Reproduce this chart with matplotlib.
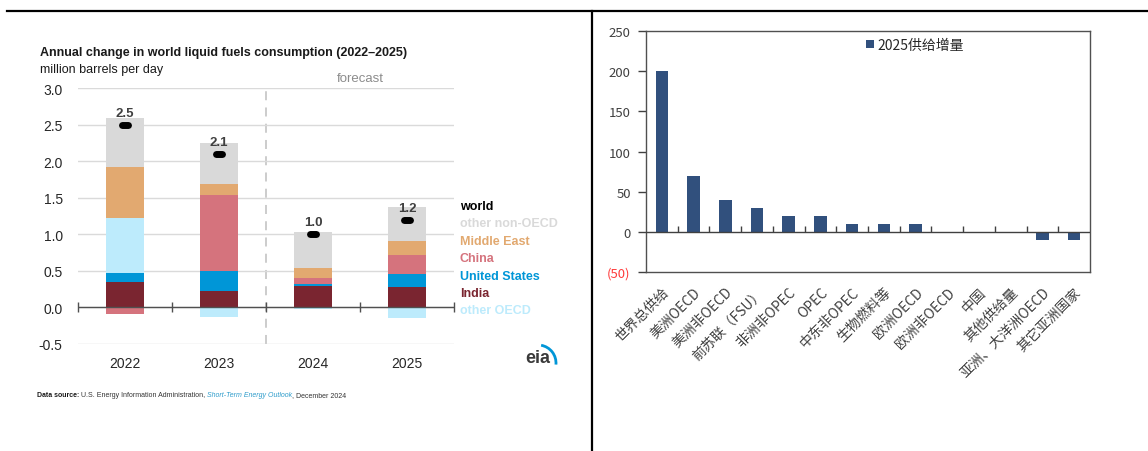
import numpy as np
import matplotlib
matplotlib.use('Agg')
import matplotlib.pyplot as plt
from matplotlib.lines import Line2D
from matplotlib.patches import Arc

# ---- left chart: EIA annual change in world liquid fuels consumption ----
years = ['2022', '2023', '2024', '2025']
world = [2.5, 2.1, 1.0, 1.2]
world_labels = ['2.5', '2.1', '1.0', '1.2']
# stack order from the zero line outwards
series_names = ['India', 'United States', 'China', 'other OECD',
                'Middle East', 'other non-OECD']
series_values = {
    'India':          [0.34, 0.22, 0.29, 0.27],
    'United States':  [0.13, 0.27, 0.03, 0.19],
    'China':          [-0.10, 1.05, 0.08, 0.26],
    'other OECD':     [0.75, -0.14, -0.03, -0.15],
    'Middle East':    [0.70, 0.15, 0.14, 0.19],
    'other non-OECD': [0.67, 0.56, 0.49, 0.47],
}
series_colors = {
    'India': '#7A2530',
    'United States': '#0096D7',
    'China': '#D5737D',
    'other OECD': '#BDEBFC',
    'Middle East': '#E2A970',
    'other non-OECD': '#D9D9D9',
}
legend_order = ['world', 'other non-OECD', 'Middle East', 'China',
                'United States', 'India', 'other OECD']

# ---- right chart: 2025 supply increment ----
regions = ['世界总供给', '美洲OECD', '美洲非OECD', '前苏联（FSU）', '非洲非OPEC',
           'OPEC', '中东非OPEC', '生物燃料等', '欧洲OECD', '欧洲非OECD',
           '中国', '其他供给量', '亚洲、大洋洲OECD', '其它亚洲国家']
supply_2025 = [200, 70, 40, 30, 20, 20, 10, 10, 10, 0, 0, 0, -10, -10]
supply_label = '2025供给增量'

W, H = 1148, 452
fig = plt.figure(figsize=(W / 100, H / 100), dpi=100)
sans = ['Liberation Sans', 'DejaVu Sans']
cjk = ['Noto Sans CJK SC', 'DejaVu Sans']
txt = '#262626'

# ================= left axes =================
ax1 = fig.add_axes([78 / W, 1 - 345 / H, 376 / W, 256 / H])
x = np.arange(len(years))
pos_base = np.zeros(len(years))
neg_base = np.zeros(len(years))
for name in series_names:
    v = np.array(series_values[name])
    base = np.where(v >= 0, pos_base, neg_base)
    ax1.bar(x, v, 0.4, bottom=base, color=series_colors[name], zorder=3,
            linewidth=0)
    pos_base += np.where(v >= 0, v, 0)
    neg_base += np.where(v < 0, v, 0)

# world total marker + label
ax1.hlines(world, x - 0.03, x + 0.03, color='black', lw=5,
           capstyle='round', zorder=5)
for xi, w, lab in zip(x, world, world_labels):
    ax1.annotate(lab, (xi, w), xytext=(0, 8.5), textcoords='offset points',
                 ha='center', va='center', fontsize=9.5, fontweight='bold',
                 color='#404040', family=sans, zorder=6)

ax1.set_xlim(-0.5, 3.5)
ax1.set_ylim(-0.505, 3.005)
ax1.set_yticks(np.arange(-0.5, 3.01, 0.5))
ax1.set_yticklabels(['-0.5', '0.0', '0.5', '1.0', '1.5', '2.0', '2.5', '3.0'])
ax1.grid(axis='y', color='#DADADA', lw=1, zorder=0)
ax1.set_xticks(x)
ax1.set_xticklabels(years)
ax1.tick_params(length=0, labelsize=10, labelcolor=txt)
ax1.tick_params(axis='y', pad=11)
ax1.tick_params(axis='x', pad=9)
for lbl in ax1.get_xticklabels() + ax1.get_yticklabels():
    lbl.set_family(sans)
for s in ax1.spines.values():
    s.set_visible(False)

# zero line with category boundary ticks
ax1.axhline(0, color='#505050', lw=1, zorder=4)
bounds = np.arange(-0.5, 3.6, 1.0)
ax1.plot(bounds, np.zeros_like(bounds), ls='none', marker='|', ms=7,
         mew=1, color='#505050', zorder=4, clip_on=False)
# forecast divider
ax1.axvline(1.5, color='#C8C8C8', lw=1.3, ls=(0, (5, 4)), zorder=1)
ax1.text(2.5, 3.06, 'forecast', ha='center', va='bottom', fontsize=9.5,
         color='#8C8C8C', family=sans)

fig.text(40 / W, 1 - 53 / H,
         'Annual change in world liquid fuels consumption (2022\u20132025)',
         fontsize=9, fontweight='bold', color='#1a1a1a', va='center',
         family=sans)
fig.text(40 / W, 1 - 70 / H, 'million barrels per day', fontsize=9,
         color='#1a1a1a', va='center', family=sans)

# coloured legend labels
for i, name in enumerate(legend_order):
    col = 'black' if name == 'world' else series_colors[name]
    fig.text(460 / W, 1 - (207 + 17.4 * i) / H, name, fontsize=9,
             fontweight='bold', color=col, va='center', family=sans)

# eia logo
fig.text(538 / W, 1 - 359 / H, 'eia', fontsize=13, fontweight='bold',
         color='#3a3a3a', ha='center', va='center', family=sans)
fig.add_artist(Arc((538 / 100, (H - 364) / 100), 0.36, 0.36, theta1=-5,
                   theta2=80, transform=fig.dpi_scale_trans,
                   color='#0096D7', lw=2))

# data source line
renderer = fig.canvas.get_renderer()
xpos = 37 / W
parts = [('Data source: ', 'bold', 'normal', '#1a1a1a'),
         ('U.S. Energy Information Administration, ', 'normal', 'normal', '#333333'),
         ('Short-Term Energy Outlook', 'normal', 'italic', '#2E9CCB'),
         (', December 2024', 'normal', 'normal', '#333333')]
for s, wgt, sty, col in parts:
    t = fig.text(xpos, 1 - 396 / H, s, fontsize=5, fontweight=wgt,
                 fontstyle=sty, color=col, va='center', family=sans)
    bb = t.get_window_extent(renderer)
    xpos = bb.x1 / W

# ================= right axes =================
ax2 = fig.add_axes([646 / W, 1 - 273 / H, 444 / W, 241 / H])
xr = np.arange(len(regions))
ax2.bar(xr, supply_2025, 0.4, color='#31507D', label=supply_label, zorder=3)
ax2.axhline(0, color='#404040', lw=1, zorder=4)
rb = np.arange(0.5, len(regions) - 1, 1.0)
ax2.plot(rb, np.zeros_like(rb), ls='none', marker=2, ms=4, mew=1,
         color='#404040', zorder=4)
ax2.set_xlim(-0.5, len(regions) - 0.5)
ax2.set_ylim(-50, 250)
yt = np.arange(-50, 251, 50)
ax2.set_yticks(yt)
ax2.set_yticklabels(['(%d)' % -v if v < 0 else str(v) for v in yt],
                    family=cjk, fontsize=9.5, color='#404040')
ax2.get_yticklabels()[0].set_color('#FF3B3B')
ax2.tick_params(axis='y', direction='out', length=6, width=1,
                color='#404040', pad=5)
ax2.set_xticks(xr)
ax2.set_xticklabels(regions, rotation=45, ha='right', rotation_mode='anchor',
                    family=cjk, fontsize=10, color='#404040')
ax2.tick_params(axis='x', length=0, pad=9)
for s in ax2.spines.values():
    s.set_color('#505050')
    s.set_linewidth(1)
leg = ax2.legend(loc='center', bbox_to_anchor=(0.606, 0.942), frameon=False,
                 handlelength=0.55, handleheight=0.55, handletextpad=0.3,
                 prop={'family': cjk, 'size': 10})
for t in leg.get_texts():
    t.set_color('#262626')

# panel divider lines
fig.add_artist(Line2D([7 / W, 1], [1 - 12 / H, 1 - 12 / H], color='black',
                      lw=1.6, transform=fig.transFigure))
fig.add_artist(Line2D([592 / W, 592 / W], [0, 1 - 12 / H], color='black',
                      lw=1.6, transform=fig.transFigure))

fig.savefig('out.png', dpi=100)
